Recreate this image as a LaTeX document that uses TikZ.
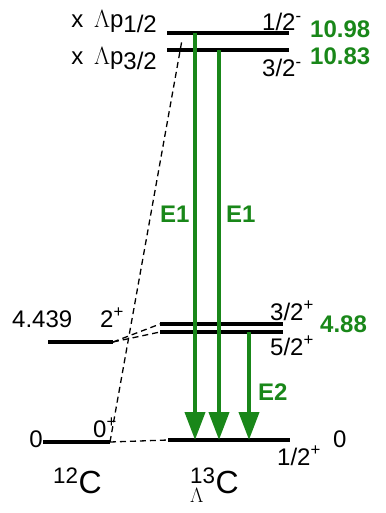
\documentclass[tikz,border=0pt]{standalone}
\usepackage{amsmath}
\usepackage{fontspec}
\setmainfont{Liberation Sans}
\usepackage{xcolor}
\usetikzlibrary{arrows.meta}
\definecolor{lgreen}{RGB}{25,135,25}

\begin{document}
\begin{tikzpicture}[x=1pt,y=-1pt,
  level/.style={line width=4pt},
  trans/.style={draw=lgreen,line width=4pt,-{Triangle[width=20pt,length=28pt]}},
  link/.style={line width=1.3pt,dash pattern=on 6pt off 4pt},
  lab/.style={inner sep=0pt,font=\fontsize{24}{24}\selectfont},
  en/.style={inner sep=0pt,text=lgreen,font=\fontsize{24}{24}\selectfont\bfseries},
  nuc/.style={inner sep=0pt,font=\fontsize{32}{32}\selectfont}]
\useasboundingbox (0,0) rectangle (385,513);
% 12C levels
\coordinate (ca) at (48,342); \coordinate (cb) at (113,342);
\coordinate (ga) at (43,442); \coordinate (gb) at (110,442);
\draw[level] (ca)--(cb);
\draw[level] (ga)--(gb);
% 13C levels
\coordinate (ua) at (167,33); \coordinate (ub) at (289,33);
\coordinate (va) at (167,50); \coordinate (vb) at (289,50);
\coordinate (da) at (160,324); \coordinate (db) at (283,324);
\coordinate (ea) at (160,332); \coordinate (eb) at (283,332);
\coordinate (ha) at (168,440); \coordinate (hb) at (290,440);
\draw[level] (ua)--(ub);
\draw[level] (va)--(vb);
\draw[line width=3.5pt] (da)--(db);
\draw[line width=3.5pt] (ea)--(eb);
\draw[level] (ha)--(hb);
% correspondence
\coordinate (pc) at (182,40);
\draw[link] (gb)--(ha);
\draw[link] (gb)--(pc);
\draw[link] (cb)--(da);
\draw[link] (cb)--(ea);
% gamma transitions
\coordinate (t1) at (195,33); \coordinate (s1) at (195,440);
\coordinate (t2) at (219,50); \coordinate (s2) at (219,440);
\coordinate (t3) at (249,332); \coordinate (s3) at (249,440);
\draw[trans] (t1)--(s1);
\draw[trans] (t2)--(s2);
\draw[trans] (t3)--(s3);
\node[en,anchor=base west] (e1a) at (160,222) {E1};
\node[en,anchor=base west] (e1b) at (226,222) {E1};
\node[en,anchor=base west] (e2) at (258,400) {E2};
% labels
\node[lab,anchor=base east] (pa) at (157,28) {x\hspace{0.45em}$\Lambda$p\raisebox{-5pt}{1/2}};
\node[lab,anchor=base east] (pb) at (157,65) {x\hspace{0.45em}$\Lambda$p\raisebox{-5pt}{3/2}};
\node[lab,anchor=base west] (ja) at (262,31) {1/2\textsuperscript{-}};
\node[lab,anchor=base west] (jb) at (262,77) {3/2\textsuperscript{-}};
\node[en,anchor=base west] (xa) at (310,38) {10.98};
\node[en,anchor=base west] (xb) at (310,65) {10.83};
\node[lab,anchor=base west] (jc) at (270,320) {3/2\textsuperscript{+}};
\node[lab,anchor=base west] (jd) at (270,355) {5/2\textsuperscript{+}};
\node[en,anchor=base west] (xc) at (320,332) {4.88};
\node[lab,anchor=base west] (je) at (277,465) {1/2\textsuperscript{+}};
\node[lab,anchor=base west] (xd) at (333,447) {0};
\node[lab,anchor=base west] (ya) at (12,327) {4.439};
\node[lab,anchor=base west] (ka) at (100,327) {2\textsuperscript{+}};
\node[lab,anchor=base east] (yb) at (43,447) {0};
\node[lab,anchor=base west] (kb) at (93,437) {0\textsuperscript{+}};
\node[nuc,anchor=base west] (na) at (53,493) {\textsuperscript{12}C};
\node[nuc,anchor=base west] (nb) at (190,493) {${}^{\text{13}}_{\Lambda}$C};
\end{tikzpicture}
\end{document}
